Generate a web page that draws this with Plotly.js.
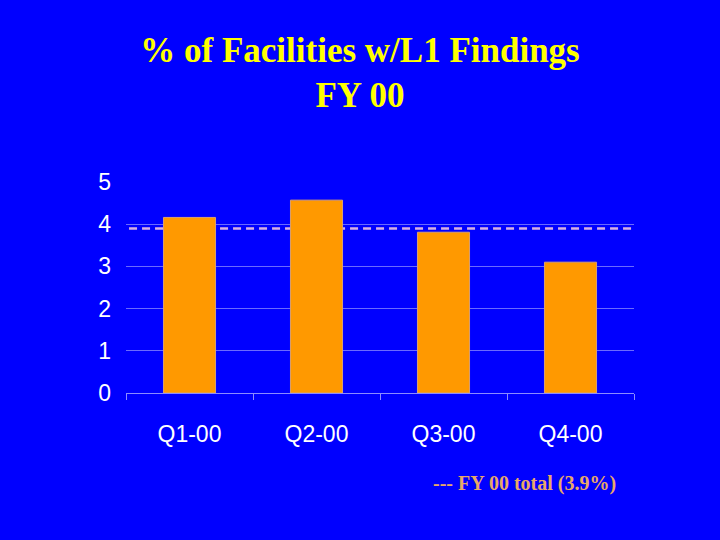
<!DOCTYPE html>
<html>
<head>
<meta charset="utf-8">
<script src="https://cdn.plot.ly/plotly-3.0.1.min.js"></script>
<style>
  html, body { margin: 0; padding: 0; background: #0000ff; }
  #chart { width: 720px; height: 540px; }
</style>
</head>
<body>
<div id="chart"></div>
<script>
const categories = ["Q1-00", "Q2-00", "Q3-00", "Q4-00"];
const pctValues = [4.16, 4.57, 3.81, 3.10];
const fyTotal = 3.9;
const yTickVals = [0, 1, 2, 3, 4, 5];
const footerText = "--- FY 00 total (3.9%)";

const trace = {
  type: "bar",
  x: categories,
  y: pctValues,
  marker: { color: "#ff9900", line: { color: "#d8a070", width: 1 } },
  width: 0.41,
  hoverinfo: "skip"
};

const layout = {
  width: 720,
  height: 540,
  paper_bgcolor: "#0000ff",
  plot_bgcolor: "#0000ff",
  margin: { l: 126, r: 86, t: 182, b: 147 },
  showlegend: false,
  title: {
    text: "% of Facilities w/L1 Findings<br>FY 00",
    font: { family: "Liberation Serif, serif", size: 35, color: "#ffff00", weight: "bold" },
    x: 0.5, xref: "container", xanchor: "center",
    y: 0.886, yref: "container", yanchor: "top"
  },
  xaxis: {
    type: "category",
    tickfont: { family: "Liberation Sans", size: 23, color: "#ffffff" },
    showgrid: false,
    showline: true,
    linecolor: "#8c8cff",
    linewidth: 1,
    ticks: "outside",
    tickson: "boundaries",
    ticklen: 6,
    tickcolor: "#8c8cff",
    ticklabelstandoff: 20,
    zeroline: false,
    fixedrange: true
  },
  yaxis: {
    range: [0, 5],
    tickvals: yTickVals,
    ticktext: yTickVals.map(String),
    tickfont: { family: "Liberation Sans", size: 23, color: "#ffffff" },
    showgrid: true,
    gridcolor: "#6a6aff",
    gridwidth: 1,
    zeroline: false,
    showline: false,
    ticks: "",
    ticklabelstandoff: 14,
    fixedrange: true
  },
  shapes: [
    {
      type: "line",
      layer: "below",
      xref: "paper", yref: "y",
      x0: 0.006, x1: 1,
      y0: fyTotal, y1: fyTotal,
      line: { color: "#d8b0e0", width: 2.5, dash: "8px,5px" }
    }
  ],
  annotations: [
    {
      text: footerText,
      xref: "paper", yref: "paper",
      x: 0.969, y: -0.43,
      xanchor: "right", yanchor: "middle",
      showarrow: false,
      font: { family: "Liberation Serif, serif", size: 20, color: "#e8a868", weight: "bold" }
    }
  ]
};

Plotly.newPlot("chart", [trace], layout, { staticPlot: true, displayModeBar: false });
</script>
</body>
</html>
